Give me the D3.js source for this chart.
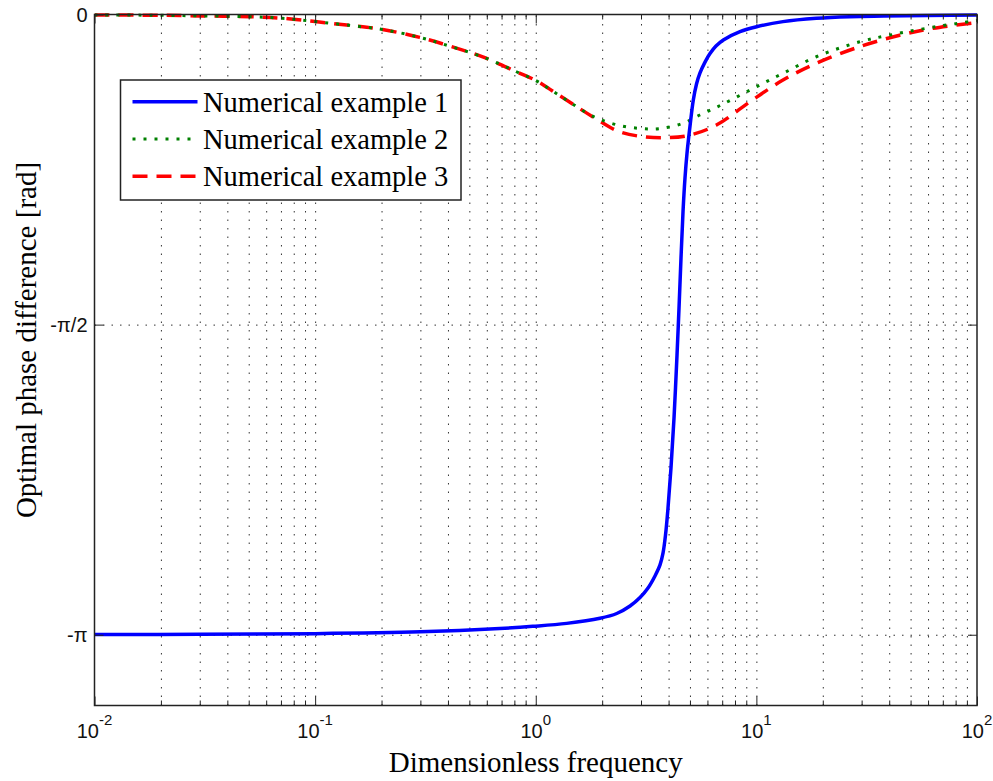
<!DOCTYPE html>
<html><head><meta charset="utf-8">
<script src="https://cdn.jsdelivr.net/npm/d3@7"></script>
<style>body{margin:0;background:#fff}</style>
</head><body>
<svg id="c" width="993" height="781"></svg>
<script>
// ---------- data ----------
const seriesNames = ["Numerical example 1", "Numerical example 2", "Numerical example 3"];

const freq1 = [0.01, 0.03, 0.1, 0.3, 0.687, 0.969, 1.381, 1.955, 2.328, 2.675, 2.969, 3.227, 3.471, 3.658, 3.774, 3.874, 3.976, 4.102, 4.233, 4.368, 4.46, 4.554, 4.65, 4.748, 4.849, 5.003, 5.178, 5.354, 5.553, 5.85, 6.164, 6.561, 7.083, 8.43, 10.03, 13.2, 18.7, 26.5, 37.7, 100];
const phase1 = [-3.141, -3.139, -3.136, -3.127, -3.110, -3.099, -3.084, -3.058, -3.034, -2.996, -2.953, -2.905, -2.844, -2.788, -2.728, -2.636, -2.500, -2.297, -2.044, -1.725, -1.487, -1.233, -1.000, -0.828, -0.702, -0.565, -0.433, -0.352, -0.296, -0.241, -0.198, -0.160, -0.129, -0.087, -0.062, -0.036, -0.019, -0.011, -0.008, -0.003];

const freq2 = [0.01, 0.02, 0.03, 0.0505, 0.0711, 0.1, 0.143, 0.202, 0.298, 0.407, 0.575, 0.818, 1, 1.157, 1.378, 1.81, 2.32, 2.96, 3.65, 4.65, 5.54, 6.59, 7.83, 10, 13.2, 18.7, 29.4, 40.4, 58.9, 100];
const phase2 = [-0.002, -0.004, -0.007, -0.011, -0.019, -0.036, -0.055, -0.076, -0.116, -0.160, -0.215, -0.290, -0.334, -0.378, -0.433, -0.515, -0.558, -0.577, -0.578, -0.551, -0.509, -0.470, -0.428, -0.366, -0.298, -0.214, -0.138, -0.104, -0.070, -0.030];

const freq3 = [0.01, 0.02, 0.03, 0.0505, 0.0711, 0.1, 0.143, 0.202, 0.298, 0.407, 0.575, 0.818, 1, 1.157, 1.378, 1.95, 2.4, 3.07, 3.91, 4.99, 6.59, 9.34, 13.2, 18.7, 29.4, 44.6, 63.2, 100];
const phase3 = [-0.002, -0.004, -0.007, -0.011, -0.019, -0.036, -0.055, -0.076, -0.116, -0.160, -0.215, -0.290, -0.334, -0.378, -0.433, -0.540, -0.594, -0.619, -0.624, -0.611, -0.560, -0.442, -0.332, -0.247, -0.163, -0.105, -0.070, -0.041];

const xTickExponents = [-2, -1, 0, 1, 2];
const yTickValues = [0, -Math.PI / 2, -Math.PI];
const yTickLabels = ["0", "-\u03c0/2", "-\u03c0"];
const xLabel = "Dimensionless frequency";
const yLabel = "Optimal phase difference [rad]";

// ---------- layout ----------
const L = 94.5, R = 977, T = 14.5, B = 705.5;
const svg = d3.select("#c");
const x = d3.scaleLog().domain([0.01, 100]).range([L, R]);
const y = d3.scaleLinear().domain([-3.5, 0]).range([B, T]);

const axisColor = "#222";
const minorVals = [];
for (let d = -2; d < 2; d++) for (let k = 1; k <= 9; k++) minorVals.push(k * Math.pow(10, d));
minorVals.push(100);
const majorVals = xTickExponents.map(e => Math.pow(10, e));
const minorOnly = minorVals.filter(v => !majorVals.some(m => Math.abs(m - v) / m < 1e-9));

// ---------- grid ----------
const grid = svg.append("g");
grid.append("g").attr("transform", `translate(0,${B})`)
  .call(d3.axisBottom(x).tickValues(minorVals.filter(v => v > 0.01 && v < 100)).tickSize(-(B - T)).tickFormat(""))
  .call(g => g.select(".domain").remove())
  .call(g => g.selectAll("line").attr("stroke", "#333").attr("stroke-width", 1).attr("stroke-dasharray", "1.5,7"));
grid.append("g").attr("transform", `translate(${L},0)`)
  .call(d3.axisLeft(y).tickValues(yTickValues.filter(v => v !== 0)).tickSize(-(R - L)).tickFormat(""))
  .call(g => g.select(".domain").remove())
  .call(g => g.selectAll("line").attr("stroke", "#333").attr("stroke-width", 1).attr("stroke-dasharray", "1.5,7"));

// ---------- series ----------
const series = [
  { name: seriesNames[0], f: freq1, p: phase1, color: "#0000ff", dash: null, width: 3.5 },
  { name: seriesNames[1], f: freq2, p: phase2, color: "#008000", dash: "3,8", width: 3 },
  { name: seriesNames[2], f: freq3, p: phase3, color: "#ff0000", dash: "15,9", width: 3.5 }
];
const line = d3.line().x(d => x(d[0])).y(d => y(d[1])).curve(d3.curveCatmullRom.alpha(0.5));
svg.append("clipPath").attr("id", "pc").append("rect")
  .attr("x", L).attr("y", T - 3).attr("width", R - L).attr("height", B - T + 3);
const curves = svg.append("g").attr("clip-path", "url(#pc)");
[series[2], series[1], series[0]].forEach(s => {
  curves.append("path")
    .datum(s.f.map((f, i) => [f, s.p[i]]))
    .attr("d", line)
    .attr("fill", "none")
    .attr("stroke", s.color)
    .attr("stroke-width", s.width)
    .attr("stroke-dasharray", s.dash)
    .attr("stroke-linejoin", "round");
});

// ---------- axes (inward ticks, box) ----------
const ax = svg.append("g");
function styleAxis(g) {
  g.select(".domain").remove();
  g.selectAll("line").attr("stroke", axisColor).attr("stroke-width", 1);
}
ax.append("g").attr("transform", `translate(0,${B})`)
  .call(d3.axisBottom(x).tickValues(minorOnly).tickSize(-5).tickFormat("")).call(styleAxis);
ax.append("g").attr("transform", `translate(0,${B})`)
  .call(d3.axisBottom(x).tickValues(majorVals).tickSize(-9).tickFormat("")).call(styleAxis);
ax.append("g").attr("transform", `translate(0,${T})`)
  .call(d3.axisTop(x).tickValues(minorOnly).tickSize(-5).tickFormat("")).call(styleAxis);
ax.append("g").attr("transform", `translate(0,${T})`)
  .call(d3.axisTop(x).tickValues(majorVals).tickSize(-9).tickFormat("")).call(styleAxis);
ax.append("g").attr("transform", `translate(${L},0)`)
  .call(d3.axisLeft(y).tickValues(yTickValues).tickSize(-9).tickFormat("")).call(styleAxis);
ax.append("g").attr("transform", `translate(${R},0)`)
  .call(d3.axisRight(y).tickValues(yTickValues).tickSize(-9).tickFormat("")).call(styleAxis);
ax.append("rect").attr("x", L).attr("y", T).attr("width", R - L).attr("height", B - T)
  .attr("fill", "none").attr("stroke", axisColor).attr("stroke-width", 1.5);

// tick labels
const xl = svg.append("g").attr("font-family", "'Liberation Sans', Arial, sans-serif").attr("fill", "#111");
xTickExponents.forEach(e => {
  const t = xl.append("text").attr("x", x(Math.pow(10, e))).attr("y", 738)
    .attr("text-anchor", "middle").attr("font-size", 20);
  t.append("tspan").text("10");
  t.append("tspan").attr("dy", -13).attr("font-size", 15).text(String(e));
});
yTickValues.forEach((v, i) => {
  xl.append("text").attr("x", L - 7).attr("y", y(v)).attr("dy", "0.36em")
    .attr("text-anchor", "end").attr("font-size", 20).text(yTickLabels[i]);
});

// axis titles
const serif = "'Liberation Serif', 'Times New Roman', serif";
svg.append("text").attr("x", (L + R) / 2).attr("y", 772).attr("text-anchor", "middle")
  .attr("font-family", serif).attr("font-size", 29).attr("fill", "#000").text(xLabel);
svg.append("text").attr("transform", `translate(36,340) rotate(-90)`).attr("text-anchor", "middle")
  .attr("font-family", serif).attr("font-size", 29).attr("fill", "#000").text(yLabel);

// ---------- legend ----------
const lg = svg.append("g");
lg.append("rect").attr("x", 120.5).attr("y", 80).attr("width", 340.5).attr("height", 120)
  .attr("fill", "#fff").attr("stroke", axisColor).attr("stroke-width", 1.5);
const rows = lg.selectAll("g.row").data(series).join("g").attr("class", "row")
  .attr("transform", (d, i) => `translate(0,${101.7 + i * 37.3})`);
rows.append("line").attr("x1", 132.5).attr("x2", 197.5).attr("y1", 0).attr("y2", 0)
  .attr("stroke", d => d.color).attr("stroke-width", d => d.width).attr("stroke-dasharray", d => d.dash);
rows.append("text").attr("x", 203).attr("y", 10).attr("font-family", serif).attr("font-size", 28.5)
  .attr("fill", "#000").text(d => d.name);
</script>
</body></html>
